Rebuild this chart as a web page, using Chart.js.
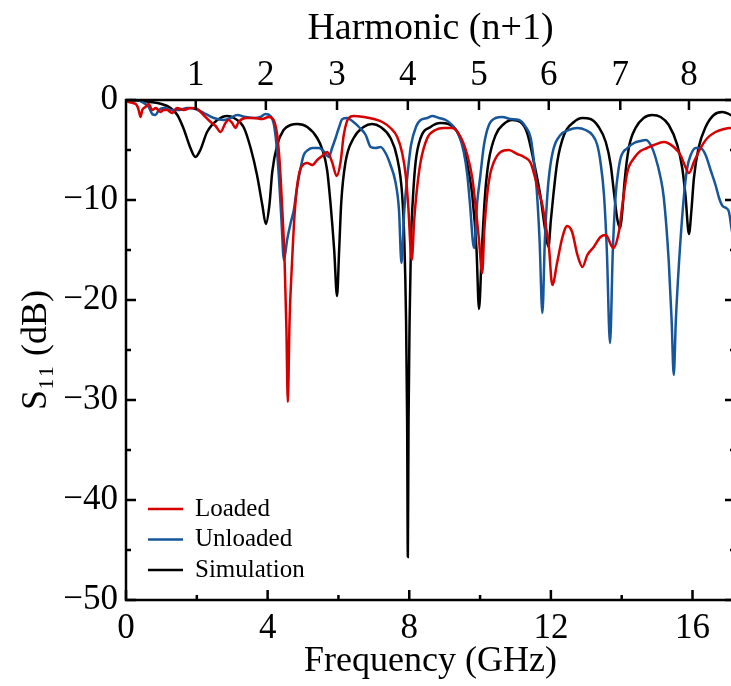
<!DOCTYPE html>
<html lang="en">
<head>
  <meta charset="UTF-8" />
  <title>S11 vs frequency</title>
  <script src="https://cdn.jsdelivr.net/npm/chart.js@4.4.1/dist/chart.umd.min.js"></script>
  <style>
    * {
      margin: 0;
      padding: 0;
    }

    body {
      width: 731px;
      height: 686px;
      overflow: hidden;
      background: #fff;
    }

    .chartBox {
      width: 745px;
      height: 686px;
    }
  </style>
</head>
<body>
  <div class="chartBox">
    <canvas id="myChart"></canvas>
  </div>
  <script>
    // [frequency GHz, S11 dB]
    const loaded = [
      [0, 0], [0.07, -0.2], [0.2, -0.3], [0.3, -0.5], [0.35, -0.9], [0.41, -1.7], [0.46, -1.0],
      [0.55, -0.7], [0.64, -0.4], [0.74, -1.0], [0.84, -0.8], [0.97, -1.2], [1.06, -1.0],
      [1.16, -1.0], [1.3, -1.3], [1.44, -0.8], [1.63, -1.0], [1.82, -0.8], [2.01, -0.9],
      [2.19, -1.5], [2.39, -2.2], [2.53, -2.6], [2.67, -3.2], [2.81, -2.3], [2.9, -2.0],
      [3.0, -2.3], [3.09, -2.8], [3.18, -2.2], [3.38, -1.8], [3.6, -1.8], [3.85, -1.9],
      [4.03, -1.7], [4.17, -2.0], [4.27, -3.5], [4.34, -6.2], [4.4, -10], [4.48, -16.2],
      [4.53, -22.8], [4.57, -30.2], [4.62, -22], [4.69, -16.2], [4.76, -11.5], [4.82, -9],
      [4.9, -7.2], [4.97, -6.6], [5.12, -6.3], [5.26, -6.5], [5.4, -6.0], [5.54, -5.6],
      [5.68, -5.2], [5.82, -6.2], [5.95, -7.6], [6.06, -6.2], [6.15, -3.5], [6.29, -1.8],
      [6.43, -1.6], [6.72, -1.7], [7.0, -1.9], [7.24, -2.2], [7.47, -2.8], [7.66, -3.7],
      [7.8, -5.3], [7.9, -7.5], [7.97, -10.5], [8.07, -16], [8.14, -12], [8.2, -9.5],
      [8.32, -6.2], [8.51, -3.8], [8.74, -3.0], [8.98, -2.8], [9.21, -2.8], [9.45, -3.7],
      [9.64, -5.5], [9.78, -7.8], [9.87, -10.5], [9.97, -14], [10.06, -17.3], [10.12, -13],
      [10.2, -9.5], [10.28, -7.5], [10.39, -6.2], [10.58, -5.2], [10.81, -5.0], [11.05, -5.4],
      [11.24, -5.7], [11.43, -6.3], [11.55, -7.7], [11.66, -9.2], [11.76, -10.5], [11.85, -12.5],
      [11.94, -14.5], [12.04, -18.5], [12.18, -16.2], [12.32, -13.8], [12.46, -12.6], [12.6, -13.2],
      [12.75, -15.5], [12.89, -16.7], [13.03, -15.5], [13.21, -14.7], [13.4, -13.7], [13.55, -13.5],
      [13.76, -14.8], [13.92, -13.2], [14.02, -10.5], [14.16, -7.2], [14.35, -5.8], [14.53, -5.1],
      [14.72, -4.8], [14.91, -4.5], [15.19, -4.2], [15.47, -4.7], [15.66, -5.5], [15.8, -6.7],
      [15.9, -7.3], [16.04, -6.2], [16.23, -4.8], [16.42, -3.8], [16.65, -3.2], [16.89, -2.9],
      [17.08, -2.8], [17.2, -2.8]
    ];

    const unloaded = [
      [0, 0], [0.15, 0], [0.32, 0], [0.5, -0.3], [0.64, -0.7], [0.74, -1.4], [0.83, -1.5],
      [0.93, -1.0], [1.07, -0.8], [1.26, -1.0], [1.5, -1.0], [1.73, -0.8], [1.96, -0.9],
      [2.2, -1.3], [2.48, -1.8], [2.76, -2.0], [2.95, -1.8], [3.14, -1.5], [3.38, -1.7],
      [3.61, -1.8], [3.8, -1.7], [3.94, -1.4], [4.08, -1.6], [4.18, -2.5], [4.25, -4.5],
      [4.32, -7.8], [4.39, -12], [4.46, -16], [4.55, -14], [4.65, -12.3], [4.74, -11],
      [4.82, -9], [4.92, -7], [5.02, -5.5], [5.14, -5.0], [5.26, -4.8], [5.45, -4.8],
      [5.6, -5.2], [5.73, -5.7], [5.82, -4.8], [5.92, -3.8], [6.01, -2.8], [6.11, -1.9],
      [6.25, -1.8], [6.39, -2.1], [6.58, -2.7], [6.77, -3.5], [6.91, -4.7], [7.05, -4.8],
      [7.19, -4.7], [7.33, -5.3], [7.47, -6.5], [7.61, -8.2], [7.71, -11], [7.78, -16.3],
      [7.86, -11], [7.95, -7.5], [8.05, -4.5], [8.2, -2.6], [8.32, -2.0], [8.51, -1.8],
      [8.65, -1.6], [8.84, -1.8], [9.03, -2.0], [9.21, -2.5], [9.4, -3.5], [9.54, -5.2],
      [9.64, -7.5], [9.71, -10.2], [9.83, -14.8], [9.92, -10.2], [10.0, -7.8], [10.11, -4.5],
      [10.25, -2.5], [10.44, -1.8], [10.63, -1.7], [10.86, -1.9], [11.1, -2.0], [11.29, -2.7],
      [11.43, -3.8], [11.5, -5.5], [11.6, -9.0], [11.68, -14], [11.76, -21.3], [11.83, -14],
      [11.9, -9.5], [11.96, -7.2], [12.08, -4.8], [12.27, -3.5], [12.5, -3.0], [12.75, -2.8],
      [12.98, -3.0], [13.17, -3.5], [13.31, -4.5], [13.4, -6.2], [13.5, -9.5], [13.58, -15],
      [13.67, -24.3], [13.75, -15], [13.83, -9.5], [13.9, -7.2], [13.97, -5.8], [14.16, -4.8],
      [14.35, -4.3], [14.53, -4.1], [14.68, -4.0], [14.82, -4.5], [14.96, -5.8], [15.1, -7.8],
      [15.19, -9.8], [15.33, -16.2], [15.41, -22], [15.47, -27.5], [15.53, -22], [15.62, -16.2],
      [15.76, -9.5], [15.85, -6.8], [15.95, -5.5], [16.09, -4.8], [16.23, -4.8], [16.37, -5.5],
      [16.51, -7.0], [16.65, -8.5], [16.75, -9.8], [16.85, -10.6], [16.95, -10.8], [17.03, -11.2],
      [17.1, -12.8], [17.2, -15]
    ];

    const simulation = [
      [0, 0], [0.3, -0.05], [0.69, -0.2], [1.0, -0.4], [1.26, -0.8], [1.45, -1.5], [1.62, -2.8],
      [1.82, -4.8], [1.96, -5.7], [2.1, -5.0], [2.29, -3.2], [2.58, -2.0], [2.86, -1.6],
      [3.05, -1.8], [3.32, -2.7], [3.52, -4.8], [3.7, -7.5], [3.85, -10.5], [3.95, -12.4],
      [4.05, -10.5], [4.13, -7.2], [4.27, -4.5], [4.45, -3.0], [4.65, -2.5], [4.84, -2.4],
      [5.12, -2.7], [5.4, -3.8], [5.55, -5.0], [5.68, -7.0], [5.78, -10.5], [5.88, -15],
      [5.96, -19.6], [6.02, -15], [6.08, -10.2], [6.2, -6.2], [6.43, -3.8], [6.71, -2.7],
      [6.95, -2.4], [7.19, -2.7], [7.47, -3.8], [7.66, -5.8], [7.8, -9.5], [7.86, -14],
      [7.91, -22], [7.94, -32], [7.96, -45.7], [7.98, -32], [8.01, -22], [8.05, -14],
      [8.1, -10], [8.18, -6.2], [8.32, -3.8], [8.6, -2.7], [8.88, -2.3], [9.11, -2.4],
      [9.36, -3.2], [9.54, -4.8], [9.68, -7.2], [9.78, -9.5], [9.9, -15], [9.97, -20.9],
      [10.05, -15], [10.14, -9.5], [10.24, -6.2], [10.44, -3.5], [10.67, -2.4], [10.91, -2.0],
      [11.14, -2.2], [11.33, -3.3], [11.52, -6.2], [11.7, -9.5], [11.84, -13], [11.93, -14.7],
      [12.0, -12], [12.07, -9.5], [12.18, -6.2], [12.37, -3.5], [12.65, -2.2], [12.89, -1.8],
      [13.12, -1.9], [13.35, -2.7], [13.55, -4.2], [13.69, -6.5], [13.78, -9.2], [13.88, -12],
      [13.96, -12.8], [14.02, -11], [14.08, -8.2], [14.2, -4.8], [14.39, -2.8], [14.62, -1.8],
      [14.86, -1.5], [15.1, -1.7], [15.33, -2.5], [15.57, -4.5], [15.71, -6.8], [15.8, -9.5],
      [15.9, -13.4], [15.97, -11], [16.04, -7.8], [16.17, -4.8], [16.37, -2.7], [16.6, -1.5],
      [16.84, -1.2], [17.08, -1.5], [17.2, -1.8]
    ];

    const xTicks = [0, 4, 8, 12, 16];
    const xMinorTicks = [2, 6, 10, 14];
    const yTicks = [-50, -40, -30, -20, -10, 0];
    const yMinorTicks = [-45, -35, -25, -15, -5];
    const harmonicFreqs = [1.97, 3.95, 5.96, 7.96, 9.97, 11.94, 13.96, 15.9];
    const harmonicLabels = ["1", "2", "3", "4", "5", "6", "7", "8"];

    Chart.defaults.font.family = "'Liberation Serif', 'Times New Roman', serif";
    Chart.defaults.color = "#000";

    const tickFont = { size: 35 };
    const titleFont = { size: 36 };

    function toPoints(arr) {
      return arr.map(function (p) {
        return { x: p[0], y: p[1] };
      });
    }

    // inward ticks + frame, drawn from the scales
    const frameTicks = {
      id: "frameTicks",
      afterDatasetsDraw(chart) {
        const ctx = chart.ctx;
        const a = chart.chartArea;
        const x = chart.scales.x;
        const y = chart.scales.y;
        ctx.save();
        ctx.strokeStyle = "#000";
        ctx.lineWidth = 2.5;
        ctx.beginPath();
        xTicks.forEach(function (v) {
          const px = x.getPixelForValue(v);
          ctx.moveTo(px, a.bottom);
          ctx.lineTo(px, a.bottom - 10);
        });
        xMinorTicks.forEach(function (v) {
          const px = x.getPixelForValue(v);
          ctx.moveTo(px, a.bottom);
          ctx.lineTo(px, a.bottom - 5);
        });
        harmonicFreqs.forEach(function (v) {
          const px = x.getPixelForValue(v);
          ctx.moveTo(px, a.top);
          ctx.lineTo(px, a.top + 10);
        });
        yTicks.forEach(function (v) {
          const py = y.getPixelForValue(v);
          ctx.moveTo(a.left, py);
          ctx.lineTo(a.left + 10, py);
          ctx.moveTo(a.right, py);
          ctx.lineTo(a.right - 10, py);
        });
        yMinorTicks.forEach(function (v) {
          const py = y.getPixelForValue(v);
          ctx.moveTo(a.left, py);
          ctx.lineTo(a.left + 5, py);
          ctx.moveTo(a.right, py);
          ctx.lineTo(a.right - 5, py);
        });
        ctx.stroke();
        ctx.strokeRect(a.left, a.top, a.right - a.left, a.bottom - a.top);
        ctx.restore();
      }
    };

    const innerLegend = {
      id: "innerLegend",
      afterDraw(chart) {
        const ctx = chart.ctx;
        const a = chart.chartArea;
        ctx.save();
        ctx.font = "25px 'Liberation Serif', serif";
        ctx.textBaseline = "middle";
        ctx.fillStyle = "#000";
        chart.data.datasets.forEach(function (ds, i) {
          const yy = a.bottom - 91 + i * 30.5;
          ctx.strokeStyle = ds.borderColor;
          ctx.lineWidth = 2.5;
          ctx.beginPath();
          ctx.moveTo(a.left + 22, yy);
          ctx.lineTo(a.left + 57, yy);
          ctx.stroke();
          ctx.fillText(ds.label, a.left + 69, yy);
        });
        ctx.restore();
      }
    };

    const data = {
      datasets: [
        {
          label: "Loaded",
          data: toPoints(loaded),
          borderColor: "#d60000",
        },
        {
          label: "Unloaded",
          data: toPoints(unloaded),
          borderColor: "#17569a",
        },
        {
          label: "Simulation",
          data: toPoints(simulation),
          borderColor: "#000000",
        },
      ],
    };

    data.datasets.forEach(function (ds) {
      ds.borderWidth = 2.5;
      ds.pointRadius = 0;
      ds.fill = false;
      ds.cubicInterpolationMode = "monotone";
    });

    const options = {
      responsive: true,
      maintainAspectRatio: false,
      animation: false,
      layout: {
        padding: { left: 0, right: 10, top: 0, bottom: 0 },
      },
      plugins: {
        legend: { display: false },
        tooltip: { enabled: false },
      },
      scales: {
        x: {
          type: "linear",
          position: "bottom",
          min: 0,
          max: 17.2,
          afterBuildTicks: function (s) {
            s.ticks = xTicks.map(function (v) { return { value: v }; });
          },
          ticks: { font: tickFont, padding: 8, maxRotation: 0, autoSkip: false },
          grid: { display: false, drawTicks: false },
          border: { display: false },
          title: {
            display: true,
            text: "Frequency (GHz)",
            font: titleFont,
            padding: { top: 0, bottom: 3 },
          },
          afterFit: function (s) { s.height = 86; },
        },
        x2: {
          type: "linear",
          position: "top",
          min: 0,
          max: 17.2,
          afterBuildTicks: function (s) {
            s.ticks = harmonicFreqs.map(function (v) { return { value: v }; });
          },
          ticks: {
            font: tickFont,
            padding: 3,
            maxRotation: 0,
            autoSkip: false,
            callback: function (v, i) { return harmonicLabels[i]; },
          },
          grid: { display: false, drawTicks: false },
          border: { display: false },
          title: {
            display: true,
            text: "Harmonic (n+1)",
            font: { size: 38 },
            padding: { top: 6, bottom: 0 },
          },
          afterFit: function (s) { s.height = 100; },
        },
        y: {
          type: "linear",
          min: -50,
          max: 0,
          afterBuildTicks: function (s) {
            s.ticks = yTicks.map(function (v) { return { value: v }; });
          },
          ticks: {
            font: tickFont,
            padding: 8,
            callback: function (v) { return v < 0 ? "\u2212" + Math.abs(v) : String(v); },
          },
          grid: { display: false, drawTicks: false },
          border: { display: false },
          title: {
            display: true,
            text: "S\u2081\u2081 (dB)",
            font: titleFont,
            padding: { top: 15, bottom: 0 },
          },
          afterFit: function (s) { s.width = 126; },
        },
      },
    };

    const config = {
      type: "line",
      data: data,
      options: options,
      plugins: [frameTicks, innerLegend],
    };

    const ctx = document.getElementById("myChart").getContext("2d");
    const myChart = new Chart(ctx, config);
  </script>
</body>
</html>
